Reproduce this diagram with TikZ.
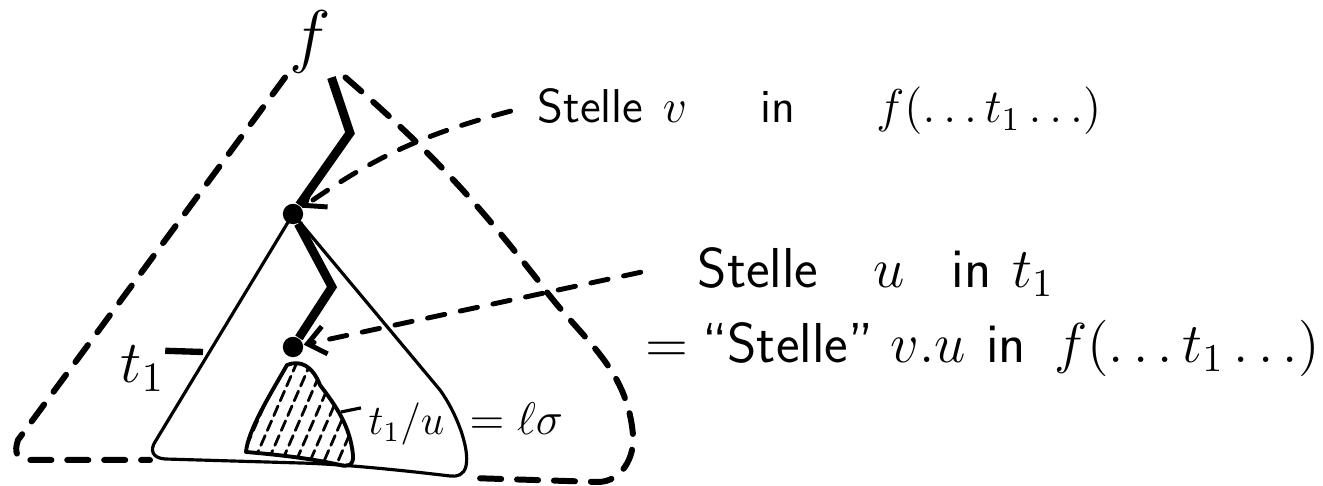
\documentclass[tikz,border=0pt]{standalone}
\usepackage{fix-cm}
\usepackage{amsmath, amssymb}
\usetikzlibrary{arrows.meta}

\begin{document}
\begin{tikzpicture}[x=0.01cm, y=-0.01cm,
    outer/.style={line width=1.7pt, dash pattern=on 6pt off 4.5pt, line cap=round},
    tree/.style={line width=0.9pt, line join=round},
    spine/.style={line width=2.5pt, line join=miter},
    posdot/.style={circle, fill=black, inner sep=0pt, minimum size=5.8pt},
    pointer/.style={line width=1.4pt, dash pattern=on 5pt off 4.5pt, line cap=round,
      -{Straight Barb[length=5pt, width=8pt, line width=1.4pt]}},
    hatch/.style={line width=0.8pt, dash pattern=on 3pt off 1.6pt, line cap=round},
    word/.style={inner sep=0pt, anchor=base west, font=\sffamily}
  ]
  \useasboundingbox (0,0) rectangle (1323,486);
  % Root symbol and the two positions
  \node[inner sep=1pt, font=\fontsize{20}{22}\selectfont] (f) at (310,42) {$f$};
  \node[posdot] (v) at (293,214) {};
  \node[posdot] (u) at (293,347) {};
  % The whole term f(...t_1...)
  \draw[outer] (f.south west) -- (18,440) .. controls (14,452) and (16,460) .. (30,460) -- (150,460);
  \draw[outer] ([xshift=3pt]f.south east) to[out=-41, in=128] (540,283)
    to[out=-54, in=95] (633,435) to[out=-85, in=0] (598,482) -- (470,478);
  % The subterm t_1 at v
  \draw[tree] (v.center) -- (440,390) .. controls (456,412) and (470,448) .. (466,466)
    .. controls (464,475) and (457,477) .. (450,476)
    .. controls (400,470) and (340,464) .. (300,463) -- (165,459)
    .. controls (152,458) and (150,450) .. (155,442) -- cycle;
  % Paths down to v and u
  \draw[spine] ([xshift=-1pt]f.south east) -- (350,133) -- (v);
  \draw[spine] (v) -- (332,287) -- (u);
  % The subterm t_1/u, hatched
  \begin{scope}
    \clip (287,365) .. controls (300,360) and (312,365) .. (320,385)
      .. controls (335,405) and (350,425) .. (353,455)
      .. controls (354,466) and (347,467) .. (340,465)
      .. controls (310,458) and (270,454) .. (246,452)
      .. controls (248,430) and (270,395) .. cycle;
    \foreach \x in {150,164,...,380}
      \draw[hatch] (\x,475) -- ++(50,-115);
  \end{scope}
  \draw[tree, line width=1.1pt] (287,365) .. controls (300,360) and (312,365) .. (320,385)
    .. controls (335,405) and (350,425) .. (353,455)
    .. controls (354,466) and (347,467) .. (340,465)
    .. controls (310,458) and (270,454) .. (246,452)
    .. controls (248,430) and (270,395) .. cycle;
  % Labels in the tree
  \node[word, font=\fontsize{17}{19}\selectfont] (tlab) at (120,383) {$t_1$};
  \coordinate (tside) at (203,352);
  \draw[line width=1.8pt] ([yshift=-1.5pt]tlab.north east) -- (tside);
  \node[word, font=\fontsize{12}{14}\selectfont] (tu) at (368,435) {$t_1/u$};
  \coordinate (tuend) at (341,412);
  \draw[tree] ([xshift=-2pt, yshift=-1.5pt]tu.north west) -- (tuend);
  \node[word, font=\fontsize{13}{15}\selectfont] (lsig) at (469,435) {$=\ell\sigma$};
  % Text on the right
  \node[word, font=\sffamily\fontsize{13.5}{16}\selectfont] (posV) at (537,123)
    {Stelle\hspace{5.5pt}$v$\hspace{21pt}in\hspace{23pt}$f(\ldots t_1\ldots)$};
  \node[word, font=\sffamily\fontsize{16}{19}\selectfont] (posU) at (697,288)
    {Stelle\hspace{15.6pt}$u$\hspace{13.4pt}in\hspace{6pt}$t_1$};
  \node[word, font=\sffamily\fontsize{16}{19}\selectfont] (posVU) at (645,363)
    {$=$\hspace{4pt}``Stelle''\hspace{5pt}$v.u$\hspace{5.7pt}in\hspace{8pt}$f(\ldots t_1\ldots)$};
  % Pointers from the text to the positions
  \draw[pointer] ([xshift=-7.5pt]posV.west) to[bend right=10] (v);
  \draw[pointer] ([xshift=-16pt]posU.west) -- (u);
\end{tikzpicture}
\end{document}
